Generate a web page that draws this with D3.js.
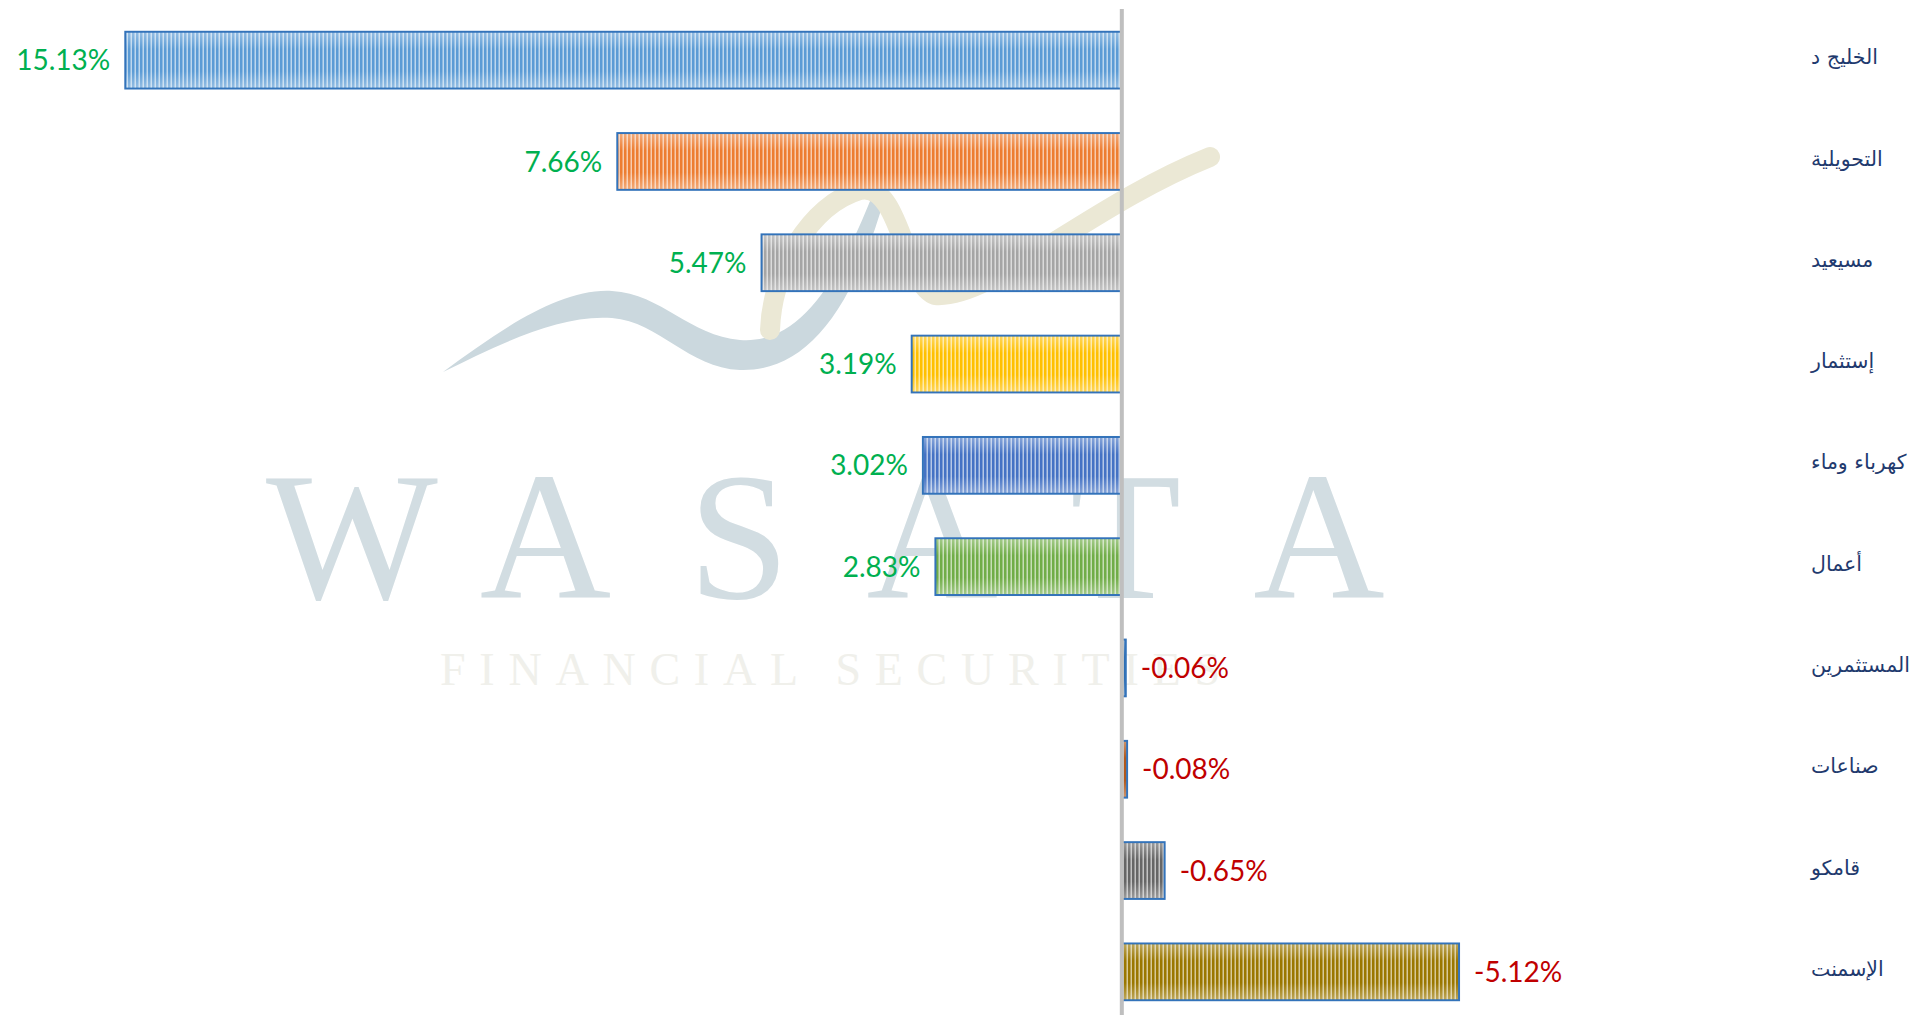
<!DOCTYPE html>
<html>
<head>
<meta charset="utf-8">
<script src="https://cdn.jsdelivr.net/npm/d3@7"></script>
<style>
    body { margin: 0; background: #fff; }
    svg { display: block; }
</style>
</head>
<body>
<div id="chart"></div>
<script>
// categories top to bottom
const categories = ["الخليج د", "التحويلية", "مسيعيد", "إستثمار", "كهرباء وماء", "أعمال", "المستثمرين", "صناعات", "قامكو", "الإسمنت"];
// percent change
const values = [15.13, 7.66, 5.47, 3.19, 3.02, 2.83, -0.06, -0.08, -0.65, -5.12];
const barColors = ["#5B9BD5", "#ED7D31", "#A5A5A5", "#FFC000", "#4472C4", "#70AD47", "#2E6DB0", "#B0571A", "#666666", "#9A7700"];
const watermarkLetters = ["W", "A", "S", "A", "T", "A"];

const width = 1913, height = 1015;

const svg = d3.select("#chart").append("svg")
    .attr("width", width)
    .attr("height", height);

const defs = svg.append("defs");

// striped fill, like the excel "light vertical" pattern
barColors.forEach((c, i) => {
    const light = d3.interpolateRgb(c, "#ffffff")(0.6);
    const p = defs.append("pattern")
        .attr("id", "stripe" + i)
        .attr("patternUnits", "userSpaceOnUse")
        .attr("width", 4)
        .attr("height", 10);
    p.append("rect").attr("width", 4).attr("height", 10).attr("fill", c);
    p.append("rect").attr("x", 2.5).attr("width", 1.5).attr("height", 10).attr("fill", light);
});

const sheen = defs.append("linearGradient")
    .attr("id", "sheen")
    .attr("x1", 0).attr("y1", 0).attr("x2", 0).attr("y2", 1);
sheen.append("stop").attr("offset", "0%").attr("stop-color", "#fff").attr("stop-opacity", 0.35);
sheen.append("stop").attr("offset", "30%").attr("stop-color", "#fff").attr("stop-opacity", 0);
sheen.append("stop").attr("offset", "70%").attr("stop-color", "#fff").attr("stop-opacity", 0);
sheen.append("stop").attr("offset", "100%").attr("stop-color", "#fff").attr("stop-opacity", 0.35);

// positive values grow to the left
const xScale = d3.scaleLinear().domain([16, -6]).range([68, 1517]);
const yScale = d3.scaleBand().domain(categories).range([9.5, 1022.5])
    .paddingInner(0.44).paddingOuter(0.22);

const data = categories.map((c, i) => ({ name: c, value: values[i], idx: i }));

// watermark
const wm = svg.append("g").attr("class", "watermark");
wm.append("path")
    .attr("d", "M443,372 C500,330 560,288 612,291 C662,294 690,336 740,340 C792,344 832,298 872,196 L884,200 C850,318 802,372 740,370 C688,368 660,322 612,318 C560,314 500,344 443,372 Z")
    .attr("fill", "#cbd8de");
// beige curl
wm.append("path")
    .attr("d", "M770,330 C772,270 810,205 860,190 C900,180 905,285 935,295 C990,300 1090,205 1210,157")
    .attr("fill", "none")
    .attr("stroke", "#ebe8d5")
    .attr("stroke-width", 20)
    .attr("stroke-linecap", "round");
wm.selectAll("text.big")
    .data(watermarkLetters)
    .enter()
    .append("text")
    .attr("class", "big")
    .attr("x", (d, i) => 352 + i * 193.4)
    .attr("y", 598)
    .attr("text-anchor", "middle")
    .attr("font-family", "Liberation Serif, serif")
    .attr("font-size", 182)
    .attr("fill", "#d2dde2")
    .text(d => d);
wm.append("text")
    .attr("x", 440)
    .attr("y", 685)
    .attr("textLength", 780)
    .attr("lengthAdjust", "spacing")
    .attr("font-family", "Liberation Serif, serif")
    .attr("font-size", 46)
    .attr("fill", "#f0f0eb")
    .text("FINANCIAL SECURITIES");

// bars
const bars = svg.append("g").attr("class", "bars");
bars.selectAll("rect.bar")
    .data(data)
    .enter()
    .append("rect")
    .attr("class", "bar")
    .attr("x", d => Math.min(xScale(d.value), xScale(0)))
    .attr("y", d => yScale(d.name))
    .attr("width", d => Math.abs(xScale(d.value) - xScale(0)))
    .attr("height", yScale.bandwidth())
    .attr("fill", d => "url(#stripe" + d.idx + ")")
    .attr("stroke", "#3373BA")
    .attr("stroke-width", 2);
bars.selectAll("rect.sheen")
    .data(data)
    .enter()
    .append("rect")
    .attr("class", "sheen")
    .attr("x", d => Math.min(xScale(d.value), xScale(0)) + 1)
    .attr("y", d => yScale(d.name) + 1)
    .attr("width", d => Math.max(0, Math.abs(xScale(d.value) - xScale(0)) - 2))
    .attr("height", yScale.bandwidth() - 2)
    .attr("fill", "url(#sheen)");

// zero line
svg.append("line")
    .attr("x1", xScale(0)).attr("x2", xScale(0))
    .attr("y1", 9).attr("y2", height)
    .attr("stroke", "#bfbfbf")
    .attr("stroke-width", 4);

// value labels
svg.append("g").selectAll("text")
    .data(data)
    .enter()
    .append("text")
    .attr("x", d => d.value >= 0 ? xScale(d.value) - 15 : xScale(d.value) + 15)
    .attr("y", d => yScale(d.name) + yScale.bandwidth() / 2)
    .attr("dy", "0.36em")
    .attr("text-anchor", d => d.value >= 0 ? "end" : "start")
    .attr("font-family", "Lato, sans-serif")
    .attr("font-size", 28)
    .attr("fill", d => d.value >= 0 ? "#00B050" : "#C00000")
    .text(d => d.value.toFixed(2) + "%");

// category labels
svg.append("g").selectAll("text")
    .data(data)
    .enter()
    .append("text")
    .attr("x", 1811)
    .attr("y", d => yScale(d.name) + yScale.bandwidth() / 2)
    .attr("dy", "0.2em")
    .attr("text-anchor", "start")
    .attr("font-family", "DejaVu Sans, sans-serif")
    .attr("font-size", 20.5)
    .attr("fill", "#1F3A6E")
    .text(d => d.name);
</script>
</body>
</html>
